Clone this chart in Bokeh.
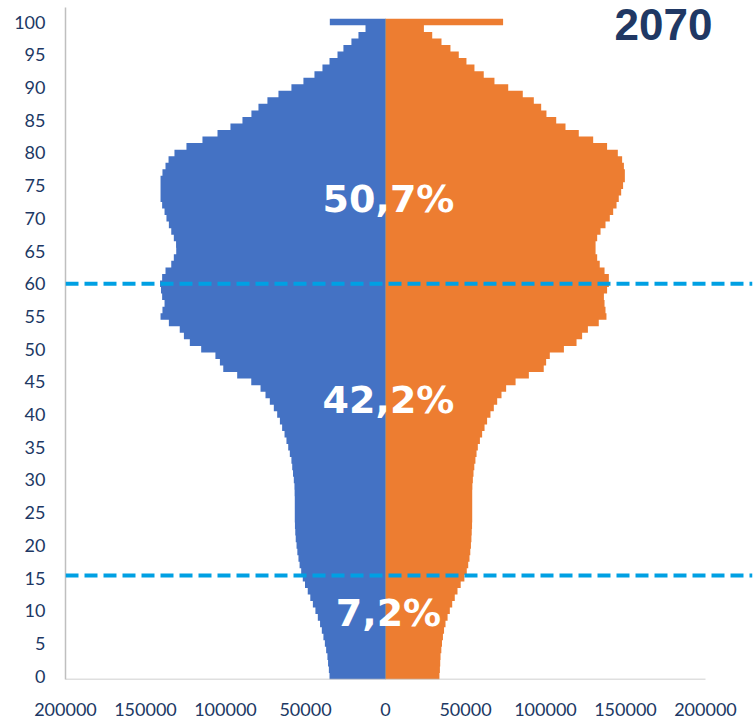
from bokeh.plotting import figure
from bokeh.models import Range1d, FixedTicker, Span
from bokeh.embed import file_html
from bokeh.resources import INLINE
from bokeh.core.properties import value

# ---------------- data ----------------
ages = list(range(0, 101))

male = [35000, 35400, 35900, 36300, 37100, 37900, 38800, 39800, 40900, 42300,
        43800, 45400, 47000, 48600, 50300, 51700, 52700, 53700, 54400, 55100,
        55600, 56100, 56400, 56600, 56700, 56700, 56700, 56700, 56800, 56900,
        57300, 57800, 58300, 58800, 59800, 60800, 61900, 63100, 64600, 66000,
        67700, 69800, 72300, 75000, 78100, 83900, 92700, 101400, 103500, 106300,
        115200, 122300, 126000, 128600, 135400, 140600, 139400, 138100, 139600, 140300,
        140900, 139600, 137500, 133900, 132300, 130800, 130900, 132300, 133900, 135400,
        136900, 138100, 139600, 140600, 140600, 140600, 140600, 139400, 137500, 135600,
        131900, 124400, 114400, 105000, 96900, 89400, 83800, 79400, 73800, 66900,
        58800, 51300, 44400, 39400, 35000, 30000, 26300, 21300, 16900, 12500,
        34800]

female = [33700, 34000, 34200, 34400, 34900, 35300, 35900, 36600, 37500, 38800,
          40200, 41700, 43300, 45000, 47000, 49300, 50800, 51700, 52500, 53000,
          53400, 53700, 53900, 54100, 54200, 54200, 54200, 54200, 54200, 54300,
          54600, 55000, 55500, 56200, 56900, 57700, 59000, 60400, 61900, 63500,
          65600, 67700, 69800, 72500, 75400, 81300, 89600, 98900, 100400, 102700,
          111500, 119400, 122900, 126500, 133300, 138100, 137500, 136900, 136500, 138500,
          139600, 139600, 136900, 133900, 132300, 131300, 131300, 132300, 134400, 137500,
          140200, 142300, 144400, 145800, 147300, 148500, 149600, 149600, 149000, 147900,
          145200, 138500, 129800, 120800, 112500, 106700, 100600, 97300, 92700, 85800,
          76700, 68100, 61400, 55600, 50600, 45800, 40600, 35000, 29200, 24000,
          73500]

x_ticks = [-200000, -150000, -100000, -50000, 0, 50000, 100000, 150000, 200000]
x_tick_labels = ["200000", "150000", "100000", "50000", "0",
                 "50000", "100000", "150000", "200000"]
y_ticks = list(range(0, 101, 5))

boundary_ages = [15.4, 60]
share_labels = ["7,2%", "42,2%", "50,7%"]
year_label = "2070"

# ---------------- styles ----------------
BLUE = "#4472C4"
ORANGE = "#ED7D31"
NAVY = "#203864"
AXIS_GREY = "#BFBFBF"
DASH_BLUE = "#00A0E3"


def step_outline(values, sign):
    """Outline of a stack of unit-height bars (one per age) starting at x=0."""
    xs = [0.0]
    ys = [ages[0] - 0.5]
    for a, v in zip(ages, values):
        xs += [sign * v, sign * v]
        ys += [a - 0.5, a + 0.5]
    xs.append(0.0)
    ys.append(ages[-1] + 0.5)
    return xs, ys


p = figure(width=754, height=719,
           x_range=Range1d(-200000, 229375), y_range=Range1d(-0.5, 102.23),
           output_backend="svg", toolbar_location=None,
           min_border_left=65, min_border_right=2,
           min_border_top=7, min_border_bottom=40)
p.outline_line_color = None
p.xgrid.visible = False
p.ygrid.visible = False
p.background_fill_color = "white"
p.border_fill_color = "white"

mx, my = step_outline(male, -1)
fx, fy = step_outline(female, 1)
p.patch(mx, my, fill_color=BLUE, line_color=None)
p.patch(fx, fy, fill_color=ORANGE, line_color=None)

# zero line (only over the bars)
p.segment(x0=[0], y0=[ages[0] - 0.5], x1=[0], y1=[ages[-1] + 0.5],
          line_color="#8C8C8C", line_width=1)

# y axis
yax = p.yaxis[0]
yax.ticker = FixedTicker(ticks=y_ticks)
yax.major_tick_out = 0
yax.major_tick_in = 0
yax.minor_tick_out = 0
yax.minor_tick_in = 0
yax.axis_line_color = AXIS_GREY
yax.axis_line_width = 1.5
yax.major_label_standoff = 20
yax.major_label_text_font = "Lato"
yax.major_label_text_font_size = "18px"
yax.major_label_text_color = NAVY

# x axis
xax = p.xaxis[0]
xax.ticker = FixedTicker(ticks=x_ticks)
xax.major_label_overrides = {t: lab for t, lab in zip(x_ticks, x_tick_labels)}
xax.major_tick_out = 0
xax.major_tick_in = 0
xax.minor_tick_out = 0
xax.minor_tick_in = 0
xax.axis_line_color = None
xax.major_label_standoff = 23
xax.major_label_text_font = "Lato"
xax.major_label_text_font_size = "18px"
xax.major_label_text_color = NAVY

# visible x baseline only over the tick span
p.segment(x0=[min(x_ticks)], y0=[p.y_range.start], x1=[max(x_ticks)], y1=[p.y_range.start],
          line_color=AXIS_GREY, line_width=1.5)

# dashed boundary lines
for a in boundary_ages:
    p.add_layout(Span(location=a, dimension="width", line_color=DASH_BLUE,
                      line_width=4, line_dash="13 6"))

# share labels
p.text(x=[0, 0, 0], y=[9.7, 42.2, 73.0], text=share_labels,
       text_font=value("DejaVu Sans"), text_font_style="bold",
       text_font_size="38px", text_color="white",
       text_align="center", text_baseline="alphabetic", x_offset=3)

# year label
p.text(x=[173750], y=[99.6], text=[year_label],
       text_font=value("Liberation Sans"), text_font_style="bold",
       text_font_size="44px", text_color=NAVY,
       text_align="center", text_baseline="alphabetic")

open("out.html", "w").write(file_html(p, INLINE))
